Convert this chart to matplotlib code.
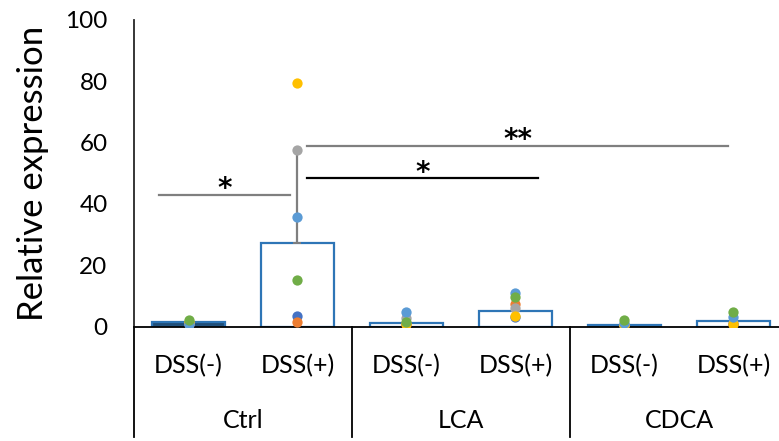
import matplotlib
matplotlib.use("Agg")
import matplotlib.pyplot as plt
import numpy as np

plt.rcParams['font.family'] = ['Lato', 'DejaVu Sans']

# ---- data ----
groups = ["Ctrl", "LCA", "CDCA"]
conditions = ["DSS(-)", "DSS(+)"]
bar_means = [1.5, 27.2, 1.2, 5.2, 0.65, 1.95]
bar_sd = [0.7, 30.4, 1.5, 3.7, 0.75, 1.65]

# individual animals (one series per animal, in drawing order)
animal_colors = ["#4472C4", "#ED7D31", "#A5A5A5", "#FFC000", "#5B9BD5", "#70AD47"]
animal_values = [
    [1.0, 3.6, 1.0, 3.1, 0.5, 1.0],    # dark blue
    [1.2, 1.4, 0.9, 7.3, 0.5, 1.0],    # orange
    [0.8, 57.5, 2.7, 6.0, 0.6, 1.2],   # gray
    [1.5, 79.5, 0.8, 3.6, 0.6, 1.0],   # yellow
    [0.9, 35.7, 4.9, 11.1, 1.1, 3.3],  # light blue
    [2.2, 15.2, 1.4, 9.8, 2.1, 4.7],   # green
]

# significance brackets: (x_start, x_end, y, label, color)
sig_brackets = [
    (0.23, 1.43, 42.9, "*", "#7F7F7F"),
    (1.59, 3.71, 48.3, "*", "black"),
    (1.59, 5.45, 58.9, "**", "#7F7F7F"),
]
y_ticks = [0, 20, 40, 60, 80, 100]

# ---- figure ----
W, H = 779, 441
fig = plt.figure(figsize=(W / 100, H / 100), dpi=100)
ax = fig.add_axes([134 / W, (H - 326.7) / H, 654 / W, 307 / H])

x = np.arange(len(bar_means)) + 0.5
faces = ["#1F4E79", "white", "white", "white", "#1F4E79", "white"]
ax.bar(x, bar_means, width=0.67, color=faces, edgecolor="#2E75B6",
       linewidth=1.6, zorder=2)
ax.errorbar(x, bar_means, yerr=[np.zeros(len(bar_sd)), bar_sd], fmt="none",
            ecolor="#7F7F7F", elinewidth=1.6, capsize=3, capthick=1.4, zorder=3)

for col, vals in zip(animal_colors, animal_values):
    ax.plot(x, vals, linestyle="none", marker="o", markersize=7.4,
            color=col, markeredgewidth=0, zorder=4)

for x0, x1, yv, lab, col in sig_brackets:
    ax.plot([x0, x1], [yv, yv], color=col, linewidth=1.6, zorder=1)
    ax.text((x0 + x1) / 2, yv - 0.8, lab, ha="center", va="baseline",
            fontsize=20, fontweight="bold", family=["DejaVu Sans"],
            color="black")

ax.set_xlim(0, 6)
ax.set_ylim(0, 100)
ax.set_yticks(y_ticks)
ax.tick_params(axis="y", length=0, pad=19, labelsize=17.5)
ax.tick_params(axis="x", bottom=False, labelbottom=False)
for s in ["top", "right"]:
    ax.spines[s].set_visible(False)
ax.spines["left"].set_color("#262626")
ax.spines["bottom"].set_color("black")
ax.spines["left"].set_linewidth(1.3)
ax.spines["bottom"].set_linewidth(1.3)

ax.set_ylabel("Relative expression", fontsize=25, labelpad=12)

# two-level category axis
y_low = -35.9
for xs in [0, 2, 4]:
    ax.plot([xs, xs], [0, y_low], color="black", linewidth=1.3, clip_on=False)
for i, xc in enumerate(x):
    ax.text(xc, -12.8, conditions[i % 2], ha="center", va="center",
            fontsize=18, clip_on=False)
for g, name in enumerate(groups):
    ax.text(2 * g + 1, -30.7, name, ha="center", va="center",
            fontsize=18, clip_on=False)

fig.savefig("out.png", dpi=100)
